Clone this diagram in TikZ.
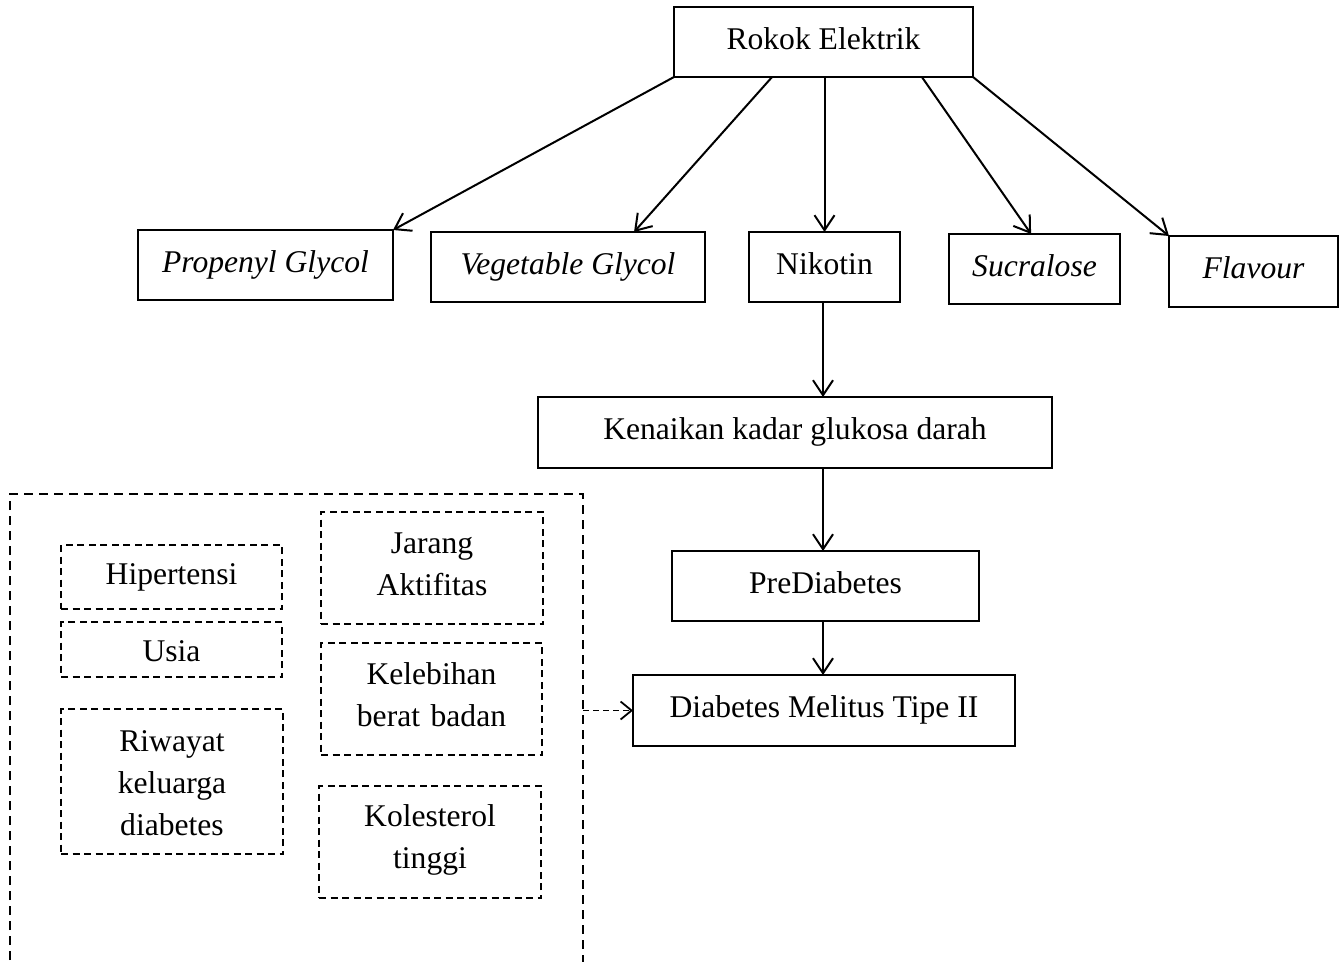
\documentclass[tikz,border=0pt]{standalone}
\usepackage{fontspec}
\setmainfont{Liberation Serif}
\usetikzlibrary{arrows.meta,calc}
\begin{document}
\begin{tikzpicture}[x=1pt,y=-1pt,
  every node/.style={inner sep=0pt,outer sep=0pt,font=\fontsize{31.6}{42}\selectfont},
  solidbox/.style={draw,line width=2pt,rectangle,text height=27pt,text depth=13pt},
  dashbox/.style={draw,line width=1.7pt,rectangle,dash pattern=on 7pt off 4.5pt,text width=210pt,align=center},
  arr/.style={line width=2pt,-{Straight Barb[length=15pt,width=20pt,line width=2pt]}},
  darr/.style={line width=1.8pt,dash pattern=on 6pt off 4pt,-{Straight Barb[length=11pt,width=18pt,line width=1.8pt,sep=0pt]}}
]
\useasboundingbox (0,0) rectangle (1340,961);
% top level
\node[solidbox,minimum width=299pt,minimum height=70pt] (rokok) at (823.5,42) {Rokok Elektrik};
\node[solidbox,minimum width=255pt,minimum height=70pt] (prop) at (265.5,265) {\itshape Propenyl Glycol};
\node[solidbox,minimum width=274pt,minimum height=70pt] (veg) at (568,267) {\itshape Vegetable Glycol};
\node[solidbox,minimum width=151pt,minimum height=70pt] (nik) at (824.5,267) {Nikotin};
\node[solidbox,minimum width=171pt,minimum height=70pt] (suc) at (1034.5,269) {\itshape Sucralose};
\node[solidbox,minimum width=169pt,minimum height=71pt] (fla) at (1253.5,271.5) {\itshape Flavour};
\node[solidbox,minimum width=514pt,minimum height=71pt] (ken) at (795,432.5) {Kenaikan kadar glukosa darah};
\node[solidbox,minimum width=307pt,minimum height=70pt] (pre) at (825.5,586) {PreDiabetes};
\node[solidbox,minimum width=382pt,minimum height=71pt] (diab) at (824,710.5) {Diabetes Melitus Tipe II};
% arrows from Rokok Elektrik
\draw[arr] (rokok.south west) -- (prop.north east);
\draw[arr] ($(rokok.south west)!0.328!(rokok.south east)$) -- ($(veg.north west)!0.741!(veg.north east)$);
\draw[arr] (rokok.south -| nik.north) -- (nik.north);
\draw[arr] ($(rokok.south west)!0.829!(rokok.south east)$) -- ($(suc.north west)!0.48!(suc.north east)$);
\draw[arr] (rokok.south east) -- (fla.north west);
% chain
\draw[arr] ([xshift=-1.5pt]nik.south) -- ([xshift=-1.5pt]nik.south |- ken.north);
\draw[arr] ([xshift=-1.5pt]nik.south |- ken.south) -- ([xshift=-1.5pt]nik.south |- pre.north);
\draw[arr] ([xshift=-1.5pt]nik.south |- pre.south) -- ([xshift=-1.5pt]nik.south |- diab.north);
% risk factor group
\draw[line width=2pt,dash pattern=on 9pt off 6pt] (10,975) -- (10,494) -- (583,494) -- (583,975);
\coordinate (grp) at (583,710.5);
\node[dashbox,minimum width=221pt,minimum height=64pt,text height=26pt,text depth=12pt] (hip) at (171.5,577) {Hipertensi};
\node[dashbox,minimum width=221pt,minimum height=55pt,text height=26pt,text depth=3pt] (usia) at (171.5,649.5) {Usia};
\node[dashbox,minimum width=222pt,minimum height=145pt,text height=26pt,text depth=87pt] (riw) at (172,781.5) {Riwayat\\keluarga\\diabetes};
\node[dashbox,minimum width=222pt,minimum height=112pt,text height=26pt,text depth=56pt] (jar) at (432,568) {Jarang\\Aktifitas};
\node[dashbox,minimum width=221pt,minimum height=112pt,text height=26pt,text depth=56pt] (kel) at (431.5,699) {Kelebihan\\berat badan};
\node[dashbox,minimum width=222pt,minimum height=112pt,text height=26pt,text depth=58pt] (kol) at (430,842) {Kolesterol\\tinggi};
\draw[darr] (grp) -- (diab.west);
\end{tikzpicture}
\end{document}
